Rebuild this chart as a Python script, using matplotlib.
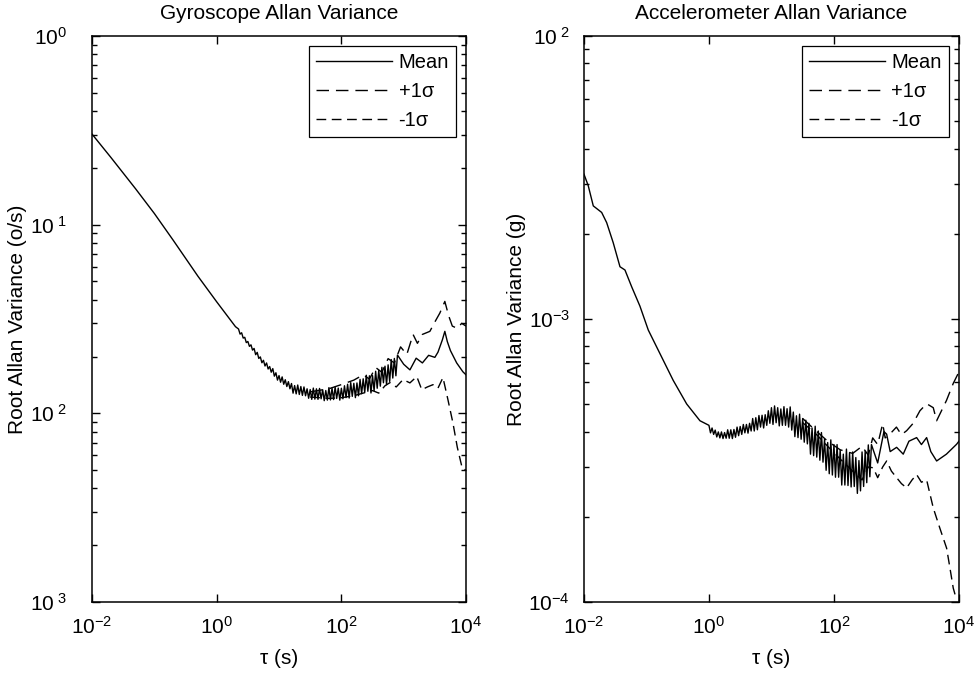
import numpy as np
import matplotlib
matplotlib.use("Agg")
import matplotlib.pyplot as plt
from matplotlib.ticker import FixedLocator, NullLocator, LogLocator

plt.rcParams['font.family'] = ['Liberation Sans', 'DejaVu Sans']
plt.rcParams['mathtext.fontset'] = 'custom'
plt.rcParams['mathtext.rm'] = 'Liberation Sans'
plt.rcParams['mathtext.it'] = 'Liberation Sans'

# ---- gyroscope (left panel) ----
gyro_tau = [0.01, 0.02, 0.05, 0.1, 0.2, 0.5, 1.0, 2.0,
            2.239, 2.371, 2.512, 2.661, 2.818, 2.985, 3.162, 3.350, 3.548, 3.758,
            3.981, 4.217, 4.467, 4.732, 5.012, 5.309, 5.623, 5.957, 6.310, 6.683,
            7.079, 7.499, 7.943, 8.414, 8.913, 9.441, 10.0, 10.59, 11.22, 11.89,
            12.59, 13.34, 14.13, 14.96, 15.85, 16.79, 17.78, 18.84, 19.95, 21.14,
            22.39, 23.71, 25.12, 26.61, 28.18, 29.85, 31.62, 33.50, 35.48, 37.58,
            39.81, 42.17, 44.67, 47.32, 50.12, 53.09, 56.23, 59.57, 63.10, 66.83,
            70.79, 74.99, 79.43, 84.14, 89.13, 94.41, 100.0, 105.9, 112.2, 118.9,
            125.9, 133.4, 141.3, 149.6, 158.5, 167.9, 177.8, 188.4, 199.5, 211.4,
            223.9, 237.1, 251.2, 266.1, 281.8, 298.5, 316.2, 335.0, 354.8, 375.8,
            398.1, 421.7, 446.7, 473.2, 501.2, 530.9, 562.3, 595.7, 631.0, 668.3,
            707.9, 749.9, 794.3,
            1000, 1259, 1585, 1995, 2512, 3162, 3548, 4169, 4571, 5012, 5623, 7079,
            8913, 10000]
gyro_mean = [0.302, 0.2275, 0.1549, 0.1146, 0.0828, 0.0533, 0.0390, 0.0288,
             0.02799, 0.02630, 0.02673, 0.02506, 0.02529, 0.02371, 0.02404, 0.02265, 0.02307, 0.02163,
             0.02208, 0.02046, 0.02104, 0.01954, 0.01991, 0.01854, 0.01910, 0.01782, 0.01849, 0.01718,
             0.01770, 0.01652, 0.01726, 0.01574, 0.01641, 0.01500, 0.01585, 0.01462, 0.01560, 0.01426,
             0.01507, 0.01387, 0.01472, 0.01349, 0.01439, 0.01279, 0.01403, 0.01268, 0.01413, 0.01259,
             0.01387, 0.01245, 0.01380, 0.01239, 0.01349, 0.01202, 0.01337, 0.01186, 0.01361, 0.01189,
             0.01349, 0.01186, 0.01355, 0.01194, 0.01334, 0.01167, 0.01321, 0.01175, 0.01368, 0.01178,
             0.01358, 0.01183, 0.01377, 0.01199, 0.01361, 0.01175, 0.01358, 0.01194, 0.01400, 0.01211,
             0.01426, 0.01205, 0.01455, 0.01230, 0.01442, 0.01211, 0.01449, 0.01239, 0.01514, 0.01271,
             0.01524, 0.01291, 0.01592, 0.01309, 0.01581, 0.01282, 0.01585, 0.01318, 0.01671, 0.01358,
             0.01690, 0.01393, 0.01754, 0.01452, 0.01778, 0.01419, 0.01807, 0.01476, 0.01928, 0.01538,
             0.01954, 0.01581, 0.02037,
             0.0182, 0.0170, 0.0196, 0.0185, 0.0203, 0.0198, 0.0211, 0.0245, 0.0272, 0.0240, 0.0215,
             0.0185, 0.0166, 0.0160]

gyro_up_tau = [31.62, 63.10, 100, 158.5, 223.9, 281.8, 354.8, 446.7, 562.3, 707.9, 891.3,
               1122, 1413, 1660, 1995, 2630, 3162, 3802, 4571, 5248, 6026, 7244, 8511, 10000]
gyro_up = [0.0130, 0.0135, 0.0142, 0.0150, 0.0160, 0.0152, 0.0175, 0.0165, 0.0195, 0.0185, 0.0225,
           0.0205, 0.0262, 0.0235, 0.0262, 0.0272, 0.0305, 0.0340, 0.0392, 0.0330, 0.0290, 0.0282,
           0.0300, 0.0290]

gyro_lo_tau = [31.62, 63.10, 100, 158.5, 223.9, 316.2, 398.1, 501.2, 602.6, 758.6, 977.2,
               1259, 1622, 1950, 2399, 2951, 3548, 4266, 5129, 6166, 7244, 8710, 10000]
gyro_lo = [0.0122, 0.0120, 0.0121, 0.0124, 0.0128, 0.0132, 0.0128, 0.0140, 0.01455, 0.0138, 0.0151,
           0.0145, 0.01567, 0.01334, 0.0138, 0.01419, 0.0136, 0.01548, 0.0118, 0.00889, 0.00661,
           0.00510, 0.0050]

# ---- accelerometer (right panel) ----
acc_tau = [0.01, 0.0117, 0.0141, 0.0192, 0.0231, 0.0294, 0.0377, 0.0453, 0.058, 0.0787,
           0.107, 0.164, 0.268, 0.440, 0.718,
           1.0, 1.059, 1.122, 1.189, 1.259, 1.334, 1.413, 1.496, 1.585, 1.679,
           1.778, 1.884, 1.995, 2.113, 2.239, 2.371, 2.512, 2.661, 2.818, 2.985,
           3.162, 3.350, 3.548, 3.758, 3.981, 4.217, 4.467, 4.732, 5.012, 5.309,
           5.623, 5.957, 6.310, 6.683, 7.079, 7.499, 7.943, 8.414, 8.913, 9.441,
           10.0, 10.59, 11.22, 11.89, 12.59, 13.34, 14.13, 14.96, 15.85, 16.79,
           17.78, 18.84, 19.95, 21.14, 22.39, 23.71, 25.12, 26.61, 28.18, 29.85,
           31.62, 33.50, 35.48, 37.58, 39.81, 42.17, 44.67, 47.32, 50.12, 53.09,
           56.23, 59.57, 63.10, 66.83, 70.79, 74.99, 79.43, 84.14, 89.13, 94.41,
           100.0, 105.9, 112.2, 118.9, 125.9, 133.4, 141.3, 149.6, 158.5, 167.9,
           177.8, 188.4, 199.5, 211.4, 223.9, 237.1, 251.2, 266.1, 281.8, 298.5,
           316.2, 335.0, 354.8, 375.8, 398.1,
           501.2, 631.0, 697, 794.3, 1007, 1285, 1585, 2105, 2512, 3043, 3548, 4399, 6310,
           9190, 10000]
acc_mean = [0.00325, 0.00296, 0.00251, 0.00238, 0.00219, 0.00186, 0.00153, 0.00149, 0.00130,
            0.00111, 0.000914, 0.000755, 0.000607, 0.000501, 0.000437,
            0.000421, 0.000396, 0.000412, 0.000391, 0.000405, 0.000383, 0.000399, 0.000380, 0.000399, 0.000378,
            0.000397, 0.000379, 0.000406, 0.000379, 0.000406, 0.000378, 0.000407, 0.000382, 0.000415, 0.000387,
            0.000417, 0.000391, 0.000424, 0.000396, 0.000424, 0.000395, 0.000428, 0.000402, 0.000445, 0.000402,
            0.000448, 0.000406, 0.000456, 0.000415, 0.000457, 0.000412, 0.000459, 0.000421, 0.000474, 0.000428,
            0.000486, 0.000424, 0.000493, 0.000430, 0.000486, 0.000419, 0.000481, 0.000421, 0.000490, 0.000421,
            0.000482, 0.000415, 0.000489, 0.000405, 0.000469, 0.000384, 0.000455, 0.000381, 0.000461, 0.000376,
            0.000445, 0.000367, 0.000439, 0.000362, 0.000428, 0.000333, 0.000412, 0.000329, 0.000418, 0.000325,
            0.000402, 0.000317, 0.000397, 0.000312, 0.000376, 0.000292, 0.000366, 0.000284, 0.000374, 0.000281,
            0.000360, 0.000276, 0.000360, 0.000276, 0.000344, 0.000259, 0.000333, 0.000259, 0.000347, 0.000258,
            0.000337, 0.000255, 0.000339, 0.000256, 0.000324, 0.000242, 0.000316, 0.000247, 0.000339, 0.000256,
            0.000341, 0.000264, 0.000359, 0.000277, 0.000360,
            0.000310, 0.000400, 0.000392, 0.000340, 0.000352, 0.000333, 0.000370, 0.000381,
            0.000360, 0.000381, 0.000340, 0.000315, 0.000333, 0.000361, 0.000370]

acc_up_tau = [31.62, 50.12, 79.43, 125.9, 199.5, 281.8, 354.8, 417, 501.2, 602.6, 660.7, 794.3,
              1000, 1202, 1456, 1837, 2377, 3043, 3884, 4399, 6310, 8110, 10000]
acc_up = [0.000445, 0.000405, 0.000370, 0.000345, 0.000335, 0.000355, 0.000330, 0.000380,
          0.000360, 0.000427, 0.000380, 0.000393, 0.000415, 0.000390, 0.000403, 0.000427,
          0.000474, 0.000502, 0.000486, 0.000437, 0.000515, 0.000592, 0.000650]

acc_lo_tau = [31.62, 50.12, 79.43, 125.9, 199.5, 281.8, 354.8, 425.6, 501.2, 602.6, 697, 831.8,
              1007, 1202, 1456, 1778, 2105, 2512, 3043, 3884, 4966, 6353, 7178, 8110, 8913]
acc_lo = [0.000430, 0.000395, 0.000355, 0.000320, 0.000290, 0.000270, 0.000300, 0.000298,
          0.000275, 0.000300, 0.000315, 0.000290, 0.000275, 0.000262, 0.000253, 0.000270,
          0.000282, 0.000265, 0.000270, 0.000215, 0.000182, 0.000155, 0.000132, 0.000112,
          0.000104]

x_ticks = [1e-2, 1e0, 1e2, 1e4]
x_ticklabels = [r'$\mathregular{10^{-2}}$', r'$\mathregular{10^{0}}$',
                r'$\mathregular{10^{2}}$', r'$\mathregular{10^{4}}$']
gyro_yticks = [1e-3, 1e-2, 1e-1, 1e0]
gyro_yticklabels = [r'$\mathregular{10^{\ 3}}$', r'$\mathregular{10^{\ 2}}$',
                    r'$\mathregular{10^{\ 1}}$', r'$\mathregular{10^{0}}$']
acc_yticks = [1e-4, 1e-3, 1e-2]
acc_yticklabels = [r'$\mathregular{10^{-4}}$', r'$\mathregular{10^{-3}}$',
                   r'$\mathregular{10^{\ 2}}$']

fig = plt.figure(figsize=(9.77, 6.73), dpi=100)
ax1 = fig.add_axes([0.0942, 0.1055, 0.3828, 0.841])
ax2 = fig.add_axes([0.5977, 0.1055, 0.3838, 0.841])

lw = 1.0


def style(ax, yticks, ylabels, ylim, title, ylabel, ypad):
    ax.set_xscale('log')
    ax.set_yscale('log')
    ax.set_xlim(1e-2, 1e4)
    ax.set_ylim(*ylim)
    ax.xaxis.set_major_locator(FixedLocator(x_ticks))
    ax.set_xticklabels(x_ticklabels)
    ax.xaxis.set_minor_locator(NullLocator())
    ax.yaxis.set_major_locator(FixedLocator(yticks))
    ax.set_yticklabels(ylabels)
    ax.yaxis.set_minor_locator(LogLocator(base=10, subs=np.arange(2, 10)))
    ax.yaxis.set_minor_formatter(plt.NullFormatter())
    ax.tick_params(which='both', direction='in', top=True, right=True,
                   labelsize=15, width=1)
    ax.tick_params(which='major', length=6)
    ax.tick_params(which='minor', length=3.5)
    ax.tick_params(axis='y', pad=ypad)
    ax.tick_params(axis='x', pad=10)
    for s in ax.spines.values():
        s.set_linewidth(1.1)
    ax.set_title(title, fontsize=15, pad=12)
    ax.set_xlabel('τ (s)', fontsize=15, labelpad=8)
    ax.set_ylabel(ylabel, fontsize=15, labelpad=2)
    leg = ax.legend(loc='upper right', fontsize=14.5, handlelength=3.8,
                    labelspacing=0.5, borderaxespad=0.5, fancybox=False,
                    framealpha=1, edgecolor='black', handletextpad=0.3,
                    borderpad=0.35)
    leg.get_frame().set_linewidth(0.9)


ax1.plot(gyro_tau, gyro_mean, color='black', lw=lw, label='Mean')
ax1.plot(gyro_up_tau, gyro_up, color='black', lw=lw, ls=(0, (9, 5)), label='+1σ')
ax1.plot(gyro_lo_tau, gyro_lo, color='black', lw=lw, ls=(0, (7, 4)), label='-1σ')
style(ax1, gyro_yticks, gyro_yticklabels, (1e-3, 1e0),
      'Gyroscope Allan Variance', 'Root Allan Variance (o/s)', 18)

ax2.plot(acc_tau, acc_mean, color='black', lw=lw, label='Mean')
ax2.plot(acc_up_tau, acc_up, color='black', lw=lw, ls=(0, (9, 5)), label='+1σ')
ax2.plot(acc_lo_tau, acc_lo, color='black', lw=lw, ls=(0, (7, 4)), label='-1σ')
style(ax2, acc_yticks, acc_yticklabels, (1e-4, 1e-2),
      'Accelerometer Allan Variance', 'Root Allan Variance (g)', 10)

fig.savefig('out.png', dpi=100)
